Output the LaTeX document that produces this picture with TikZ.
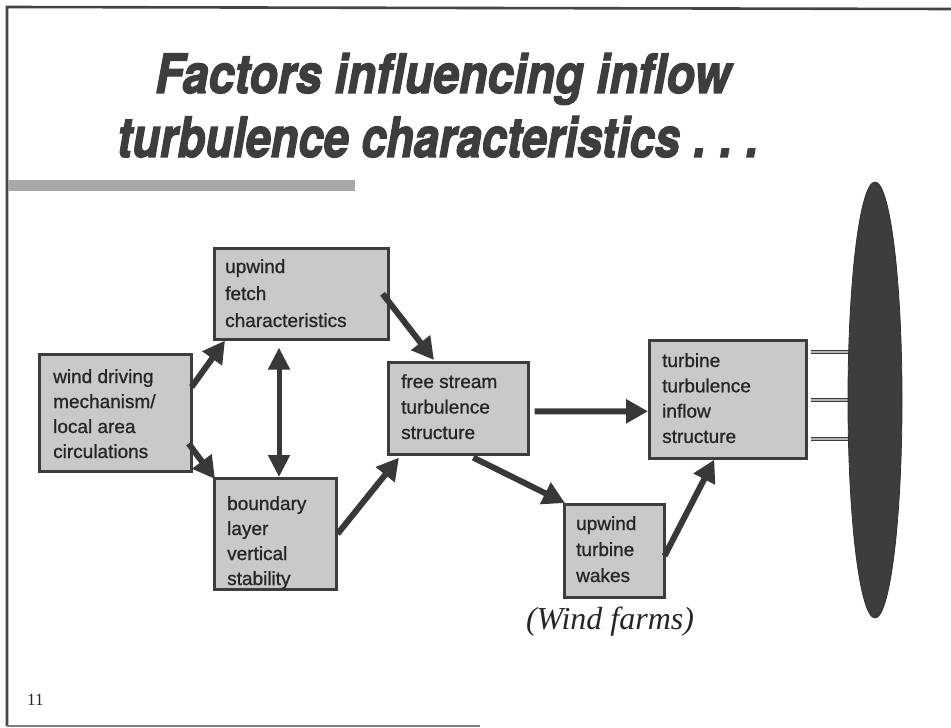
\documentclass[tikz,border=0pt]{standalone}
\usepackage{fontspec}
\usepackage{graphicx}
\usetikzlibrary{arrows.meta,calc,shapes.geometric}
\newfontfamily\boxfont[FakeBold=0.9]{Liberation Sans}
\newfontfamily\seriffont{Liberation Serif}
\newfontfamily\titlefont[FakeBold=2.5]{TeX Gyre Heros}
\newcommand\boxlines[1]{\vtop{\halign{##\hfil\cr#1\crcr}}}
\definecolor{boxfill}{rgb}{0.79,0.79,0.79}
\definecolor{boxline}{rgb}{0.24,0.24,0.24}
\definecolor{arrowc}{rgb}{0.22,0.22,0.22}
\definecolor{titlec}{rgb}{0.24,0.24,0.24}
\definecolor{txt}{rgb}{0.15,0.15,0.15}
\definecolor{rotorc}{rgb}{0.24,0.24,0.24}
\definecolor{framec}{rgb}{0.27,0.27,0.27}
\definecolor{barc}{rgb}{0.66,0.66,0.66}
\tikzset{
  boxshape/.style={draw=boxline, line width=2.6bp, fill=boxfill, rectangle, anchor=north west, inner sep=0pt},
  boxtext/.style={anchor=base west, inner sep=0pt, text=txt, font={\boxfont\fontsize{19bp}{#1}\selectfont}},
  boxtext/.default=25.5bp,
  flow/.style={draw=arrowc, line width=6bp, -{Triangle[length=22bp,width=23bp]}},
  flowboth/.style={draw=arrowc, line width=5bp, {Triangle[length=22bp,width=21bp]}-{Triangle[length=22bp,width=21bp]}},
  shaft/.style={draw=boxline, line width=1.4bp, double=gray!60, double distance=1.5bp},
}
\begin{document}
\begin{tikzpicture}[x=1bp,y=-1bp]
\useasboundingbox (0,0) rectangle (951,728);
% frame
\draw[framec, line width=2.6bp] (7,726) -- (7,7) -- (951,9);
\draw[framec!70, line width=2bp] (7,726) -- (480,726);
% title
\node[anchor=base west, inner sep=0pt, text=titlec] (title1) at (155,93)
  {\resizebox{575bp}{40bp}{\titlefont\bfseries\itshape Factors influencing inflow}};
\node[anchor=base west, inner sep=0pt, text=titlec] (title2) at (117,157)
  {\resizebox{641bp}{41bp}{\titlefont\bfseries\itshape turbulence characteristics\kern0.3em.\kern0.3em.\kern0.3em.}};
\fill[barc] (8,180) rectangle (355,191);
% boxes
\node[boxshape, minimum width=152bp, minimum height=117bp] (wind) at (38,353) {};
\node[boxtext=25bp] (windt) at ($(wind.north west)+(15,30)$) {\boxlines{wind driving\cr mechanism/\cr local area\cr circulations}};
\node[boxshape, minimum width=174bp, minimum height=91bp] (fetch) at (213,247) {};
\node[boxtext=27bp] (fetcht) at ($(fetch.north west)+(12,26)$) {\boxlines{upwind\cr fetch\cr characteristics}};
\node[boxshape, minimum width=122bp, minimum height=111bp] (bl) at (213,477) {};
\node[boxtext=25bp] (blt) at ($(bl.north west)+(14,33)$) {\boxlines{boundary\cr layer\cr vertical\cr stability}};
\node[boxshape, minimum width=140bp, minimum height=92bp] (free) at (387,361) {};
\node[boxtext=25.5bp] (freet) at ($(free.north west)+(14,27)$) {\boxlines{free stream\cr turbulence\cr structure}};
\node[boxshape, minimum width=157bp, minimum height=118bp] (turb) at (648,339) {};
\node[boxtext=25.3bp] (turbt) at ($(turb.north west)+(14,28)$) {\boxlines{turbine\cr turbulence\cr inflow\cr structure}};
\node[boxshape, minimum width=100bp, minimum height=93bp] (wakes) at (563,503) {};
\node[boxtext=26bp] (wakest) at ($(wakes.north west)+(13,27)$) {\boxlines{upwind\cr turbine\cr wakes}};
% rotor
\draw[shaft] ($(turb.north east)+(3,13)$) coordinate (s1) -- ($(turb.north east)+(48,13)$) coordinate (e1);
\draw[shaft] ($(turb.north east)+(3,61)$) coordinate (s2) -- ($(turb.north east)+(48,61)$) coordinate (e2);
\draw[shaft] ($(turb.north east)+(3,100)$) coordinate (s3) -- ($(turb.north east)+(48,100)$) coordinate (e3);
\node[ellipse, fill=rotorc, draw=rotorc!80!black, line width=0.8bp, minimum width=54bp, minimum height=436bp, inner sep=0pt] (rotor) at (875,400) {};
% arrows
\draw[flow] ($(wind.north east)+(-1,34)$) -- ($(fetch.south west)+(12,0)$);
\draw[flow] ($(wind.south east)+(-4,-29)$) -- ($(bl.north west)+(2,2)$);
\draw[flowboth] ($(fetch.south west)+(66,7)$) -- ($(bl.north west)+(66,0)$);
\draw[flow] (bl.east) -- ($(free.south west)+(12,2)$);
\draw[flow] ($(fetch.east)+(-7,0)$) -- ($(free.north west)+(47,-1)$);
\draw[flow] ($(free.east)+(5,3)$) -- ($(turb.west)+(0,12)$);
\draw[flow] ($(free.south)+(15,2)$) -- ($(wakes.north west)+(2,0)$);
\draw[flow] ($(wakes.east)+(-1,5)$) -- ($(turb.south)+(-13.5,0)$);
% labels
\node[anchor=base, inner sep=0pt, text=txt, font={\seriffont\itshape\fontsize{32bp}{36bp}\selectfont}] (farms) at (610,629) {(Wind farms)};
\node[anchor=base west, inner sep=0pt, text=txt, font={\seriffont\fontsize{17bp}{20bp}\selectfont}] (pagenum) at (27,705) {11};
\end{tikzpicture}
\end{document}
